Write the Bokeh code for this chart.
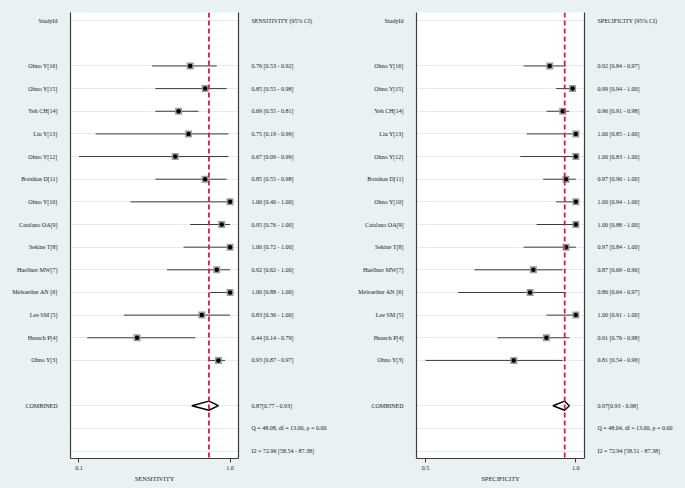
from bokeh.plotting import figure
from bokeh.layouts import row
from bokeh.models import Range1d, LinearAxis, FixedTicker, Span
from bokeh.embed import file_html
from bokeh.resources import INLINE

# ---------------- data ----------------
studies = ["Ohno Y[16]", "Ohno Y[15]", "Yeh CH[14]", "Liu Y[13]", "Ohno Y[12]",
           "Botsikas D[11]", "Ohno Y[10]", "Catalano OA[9]", "Sekine T[8]",
           "Huellner MW[7]", "Melsaether AN [6]", "Lee SM [5]", "Heusch P[4]", "Ohno Y[3]"]
sens = [0.76, 0.85, 0.69, 0.75, 0.67, 0.85, 1.00, 0.95, 1.00, 0.92, 1.00, 0.83, 0.44, 0.93]
sens_lo = [0.53, 0.55, 0.55, 0.19, 0.09, 0.55, 0.40, 0.76, 0.72, 0.62, 0.88, 0.36, 0.14, 0.87]
sens_hi = [0.92, 0.98, 0.81, 0.99, 0.99, 0.98, 1.00, 1.00, 1.00, 1.00, 1.00, 1.00, 0.79, 0.97]
spec = [0.92, 0.99, 0.96, 1.00, 1.00, 0.97, 1.00, 1.00, 0.97, 0.87, 0.86, 1.00, 0.91, 0.81]
spec_lo = [0.84, 0.94, 0.91, 0.85, 0.83, 0.90, 0.94, 0.88, 0.84, 0.69, 0.64, 0.91, 0.76, 0.54]
spec_hi = [0.97, 1.00, 0.98, 1.00, 1.00, 1.00, 1.00, 1.00, 1.00, 0.96, 0.97, 1.00, 0.98, 0.96]

sens_pooled = [0.873, 0.77, 0.93]
spec_pooled = [0.966, 0.93, 0.98]
sens_q = [48.08, 13.00, 0.00]
spec_q = [48.04, 13.00, 0.00]
sens_i2 = [72.96, 58.54, 87.38]
spec_i2 = [72.94, 58.51, 87.38]

FONT = "Liberation Serif"
BG = "#EAF1F3"
TXT = "#1a1a1a"
AX = "#3c3c3c"


def panel(name, est, lo, hi, pooled, q, i2, width, bl, br, xr):
    n = len(studies)
    rows = list(range(2, 2 + n))
    r_comb = 2 + n + 1
    r_q, r_i2 = r_comb + 1, r_comb + 2

    p = figure(width=width, height=488, output_backend="svg", toolbar_location=None,
               x_range=Range1d(*xr), y_range=Range1d(19.33, -0.36),
               min_border_left=bl, min_border_right=br, min_border_top=12,
               min_border_bottom=30, styles={"background-color": BG})
    p.border_fill_color = BG
    p.background_fill_color = "white"
    p.outline_line_color = None
    p.xgrid.visible = False

    # left axis: study names
    left_ticks = [0] + rows + [r_comb]
    left_labels = {0: "StudyId", r_comb: "COMBINED"}
    for r, s in zip(rows, studies):
        left_labels[r] = s
    ya = p.yaxis[0]
    ya.ticker = FixedTicker(ticks=left_ticks)
    ya.major_label_overrides = left_labels
    # right axis: estimates
    right_ticks = [0] + rows + [r_comb, r_q, r_i2]
    right_labels = {0: f"{name} (95% CI)"}
    for r, e, l, h in zip(rows, est, lo, hi):
        right_labels[r] = f"{e:.2f} [{l:.2f} - {h:.2f}]"
    right_labels[r_comb] = f" {pooled[0]:.2f}[{pooled[1]:.2f} - {pooled[2]:.2f}]"
    right_labels[r_q] = f"Q = {q[0]:.2f}, df = {q[1]:.2f}, p =  {q[2]:.2f}"
    right_labels[r_i2] = f"I2 = {i2[0]:.2f} [{i2[1]:.2f} - {i2[2]:.2f}]"
    ra = LinearAxis(ticker=FixedTicker(ticks=right_ticks), major_label_overrides=right_labels)
    p.add_layout(ra, "right")
    for a in (ya, ra):
        a.major_tick_line_color = None
        a.minor_tick_line_color = None
        a.major_tick_out = 0
        a.major_tick_in = 0
        a.major_label_standoff = 13
        a.axis_line_color = AX
        a.axis_line_width = 1.2
        a.major_label_text_font = FONT
        a.major_label_text_font_size = "6px"
        a.major_label_text_color = TXT

    p.ygrid[0].ticker = FixedTicker(ticks=right_ticks)
    p.ygrid[0].grid_line_color = "#E4ECEF"
    p.ygrid[0].grid_line_width = 1

    # x axis
    xa = p.xaxis[0]
    xmin = min(lo)
    xa.ticker = FixedTicker(ticks=[xmin, 1.0])
    xa.major_label_overrides = {xmin: f"{xmin:.1f}", 1.0: "1.0"}
    xa.minor_tick_line_color = None
    xa.major_tick_in = 0
    xa.major_tick_out = 4
    xa.major_tick_line_color = AX
    xa.axis_line_color = AX
    xa.axis_line_width = 1.2
    xa.major_label_standoff = 3
    xa.major_label_text_font = FONT
    xa.major_label_text_font_size = "6px"
    xa.major_label_text_color = TXT
    xa.axis_label = name
    xa.axis_label_text_font = FONT
    xa.axis_label_text_font_size = "6.5px"
    xa.axis_label_text_font_style = "normal"
    xa.axis_label_text_color = TXT
    xa.axis_label_standoff = 2

    # pooled line
    p.add_layout(Span(location=pooled[0], dimension="height", line_color="#D81E42",
                      line_width=1.8, line_dash="5 3"))

    # CIs and markers
    p.segment(x0=lo, x1=hi, y0=rows, y1=rows, line_color="#3a3a3a", line_width=1)
    p.scatter(x=est, y=rows, marker="square", size=7, fill_color="#9c9c9c", line_color=None)
    p.scatter(x=est, y=rows, marker="circle", size=4.5, fill_color="black", line_color=None)

    # diamond
    h = 0.2
    p.patch(x=[pooled[1], pooled[0], pooled[2], pooled[0], pooled[1]],
            y=[r_comb, r_comb - h, r_comb, r_comb + h, r_comb],
            fill_color=None, line_color="black", line_width=1.4)
    return p


p1 = panel("SENSITIVITY", sens, sens_lo, sens_hi, sens_pooled, sens_q, sens_i2,
           342, 70, 104, (0.0388, 1.051))
p2 = panel("SPECIFICITY", spec, spec_lo, spec_hi, spec_pooled, spec_q, spec_i2,
           343, 74, 101, (0.5125, 1.0265))

layout = row(p1, p2, spacing=0, styles={"background-color": BG})
open("out.html", "w").write(file_html(layout, INLINE))
